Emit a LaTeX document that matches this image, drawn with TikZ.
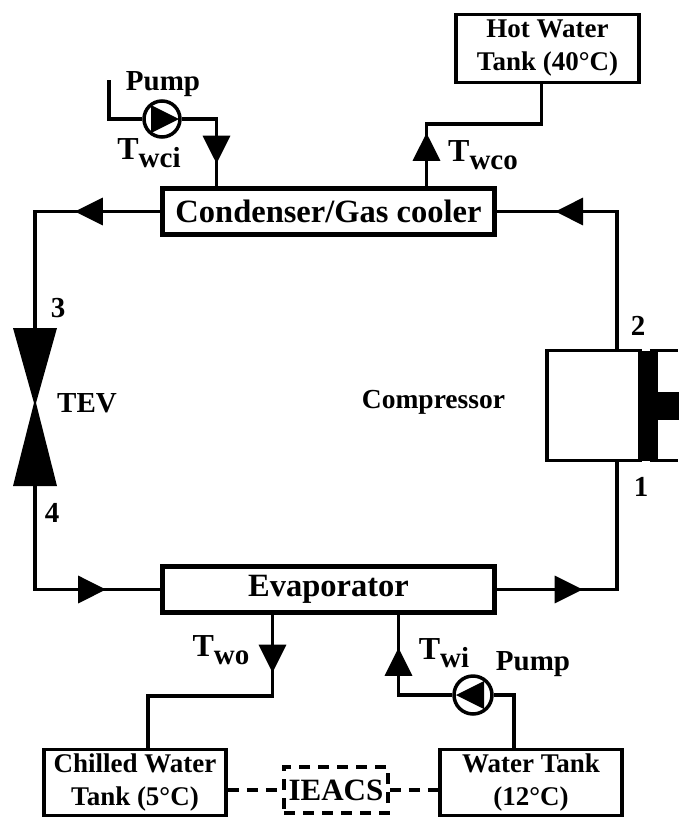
\documentclass[tikz,border=0pt]{standalone}
\usepackage{fontspec}
\setmainfont{Liberation Serif}
\usepackage{tikz}
\usetikzlibrary{shapes,arrows.meta,positioning,calc,decorations.markings}
\tikzstyle{hx} = [rectangle, draw=black, line width=5pt, fill=white, minimum width=332pt, minimum height=46pt, inner sep=0pt, text centered, font=\bfseries\fontsize{32.5}{34}\selectfont]
\tikzstyle{tank} = [rectangle, draw=black, line width=3.5pt, fill=white, minimum width=182pt, minimum height=66pt, inner sep=0pt, align=center, font=\bfseries\fontsize{27}{33}\selectfont]
\tikzstyle{label} = [font=\bfseries\fontsize{29}{30}\selectfont, inner sep=0pt]
\tikzstyle{pipe} = [line width=3.5pt]
\tikzstyle{bar} = [rectangle, fill=black, inner sep=0pt, outer sep=0pt]
\tikzset{
  flow/.style={pipe, postaction=decorate, decoration={markings, mark=at position #1 with {\arrow{Triangle[length=28pt,width=27pt]}}}},
  pump/.style={circle, draw=black, line width=3.5pt, fill=white, minimum size=36pt, inner sep=0pt,
    path picture={\fill[black] (path picture bounding box.center) ++(#1*17,0) -- ++(#1*-28,14) -- ++(0,-28) -- cycle;}},
}
\newcommand{\tsub}[1]{{\fontsize{32}{32}\selectfont T}\raisebox{-8pt}{\fontsize{29}{29}\selectfont #1}}
\begin{document}
\begin{tikzpicture}[x=1pt,y=1pt]
	\useasboundingbox (0,0) rectangle (678,-819);
	% heat exchangers
	\node (cond) [hx] at (328.5,-211.5) {Condenser/Gas cooler};
	\node (evap) [hx, below=327pt of cond] {Evaporator};
	% tanks
	\node (hot) [tank, minimum width=183pt, minimum height=68pt] at (547.5,-48.5) {Hot Water\\Tank (40\textdegree C)};
	\node (chilled) [tank] at (135,-782.5) {Chilled Water\\Tank (5\textdegree C)};
	\node (water) [tank] at (531,-782.5) {Water Tank\\(12\textdegree C)};
	\node (ieacs) [rectangle, draw=black, line width=3.5pt, dash pattern=on 11pt off 8pt, minimum width=104pt, minimum height=46pt, inner sep=0pt, font=\bfseries\fontsize{31}{32}\selectfont] at (336,-790) {IEACS};
	% compressor
	\node (comp) [rectangle, draw=black, line width=3.5pt, minimum width=93pt, minimum height=110pt] at (593.5,-405.5) {};
	\node (crank) [bar, minimum width=16pt, minimum height=110pt, right=0pt of comp] {};
	\node (rod) [bar, minimum width=22pt, minimum height=28pt, right=0pt of crank] {};
	\coordinate (edge) at (678,-405.5);
	\coordinate (compin) at (617,-461);
	\coordinate (compout) at (617,-350);
	% valve
	\coordinate (tev) at (35,-403);
	\coordinate (tevtop) at (35,-328);
	\coordinate (tevbot) at (35,-486);
	% pumps
	\node (pumpc) [pump=1] at (162,-119) {};
	\node (pumpe) [pump=-1, minimum size=38pt] at (473,-695) {};
	\coordinate (supply) at (109,-80);
	\coordinate (cin) at ([xshift=-112pt]cond.north);
	\coordinate (cout) at ([xshift=98pt]cond.north);
	\coordinate (hotin) at ([xshift=-6pt]hot.south);
	\coordinate (eout) at ([xshift=-56pt]evap.south);
	\coordinate (ein) at ([xshift=70pt]evap.south);
	\coordinate (chin) at ([xshift=13pt]chilled.north);
	\coordinate (wout) at ([xshift=-17pt]water.north);

	\draw [flow=0.353] (cond.west) -| (tevtop);
	\draw [flow=0.775] (compout) |- (cond.east);
	\draw [flow=0.764] (tevbot) |- (evap.west);
	\draw [flow=0.345] (evap.east) -| (compin);
	\fill (tevtop) -- ++(-22,0) -- ($(tev)+(-1,0)$) -- ($(tev)+(1,0)$) -- ($(tevtop)+(22,0)$) -- cycle;
	\fill (tevbot) -- ++(-22,0) -- ($(tev)+(-1,0)$) -- ($(tev)+(1,0)$) -- ($(tevbot)+(22,0)$) -- cycle;
	\draw [pipe] (crank.north) -- (crank.north -| edge);
	\draw [pipe] (crank.south) -- (crank.south -| edge);

	\draw [pipe] (supply) |- (pumpc.west);
	\draw [flow=0.78] (pumpc.east) -| (cin);
	\draw [flow=0.245] (cout) -- ++(0,62) -| (hotin);
	\draw [flow=0.224] (eout) -- ++(0,-81) -| (chin);
	\draw [pipe] (wout) |- (pumpe.east);
	\draw [flow=0.755] (pumpe.west) -| (ein);
	\draw [pipe, dash pattern=on 11pt off 8pt] (chilled.east |- ieacs.west) -- (ieacs.west);
	\draw [pipe, dash pattern=on 11pt off 8pt] (ieacs.east) -- (ieacs.east -| water.west);

	\node (lpumpc) [label] at (163,-84) {Pump};
	\node (ltwci) [label] at (149,-153) {\tsub{wci}};
	\node (ltwco) [label] at (483,-155) {\tsub{wco}};
	\node (lcomp) [label, font=\bfseries\fontsize{27.5}{30}\selectfont, left=40pt of comp, yshift=3pt] {Compressor};
	\node (ltev) [label] at (87,-403) {TEV};
	\node (ltwo) [label] at (221,-650) {\tsub{wo}};
	\node (ltwi) [label] at (444,-653) {\tsub{wi}};
	\node (lpumpe) [label] at (533,-664) {Pump};
	\node (ltwo2) [label] at (638,-326) {2};
	\node (lone) [label] at (641,-487) {1};
	\node (lthree) [label] at (58,-308) {3};
	\node (lfour) [label] at (52,-513) {4};
\end{tikzpicture}
\end{document}
